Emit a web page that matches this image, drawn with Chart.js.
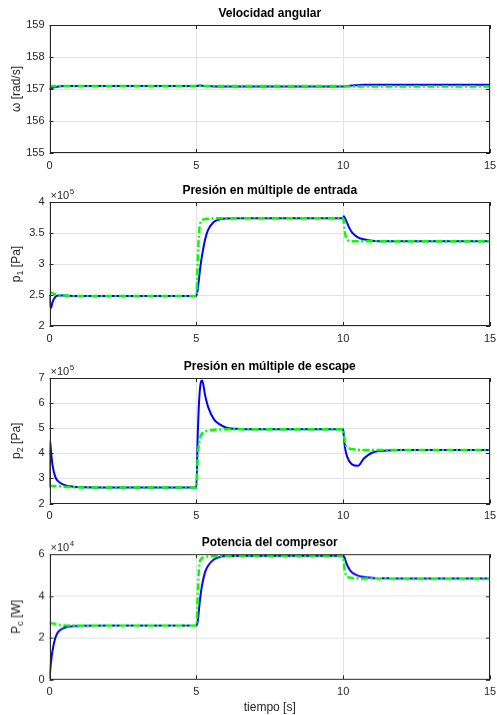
<!DOCTYPE html>
<html>
<head>
<meta charset="utf-8">
<script src="https://cdn.jsdelivr.net/npm/chart.js@4"></script>
<style>
    html, body { margin: 0; padding: 0; background: #fff; }
    #lienzo { position: relative; width: 497px; height: 715px; overflow: hidden; }
    .panel { position: absolute; left: 0; width: 497px; }
</style>
</head>
<body>
<div id="lienzo">
    <div class="panel" id="p-omega"><canvas id="chart-omega"></canvas></div>
    <div class="panel" id="p-p1"><canvas id="chart-p1"></canvas></div>
    <div class="panel" id="p-p2"><canvas id="chart-p2"></canvas></div>
    <div class="panel" id="p-pc"><canvas id="chart-pc"></canvas></div>
</div>
<script>
// tiempo [s] (muestras no uniformes, más densas en los escalones)
const tiempo = [0, 0.02, 0.05, 0.1, 0.2, 0.3, 0.5, 0.8, 1.2, 2,
    5, 5.05, 5.1, 5.15, 5.2, 5.3, 5.4, 5.6, 5.8, 6,
    6.5, 7,
    10, 10.02, 10.05, 10.1, 10.2, 10.3, 10.5, 10.7, 11, 11.5, 12, 15];

// velocidad angular [rad/s]
const omegaPlanta = [157.00, 157.01, 157.02, 157.04, 157.06, 157.08, 157.09, 157.09, 157.09, 157.09,
    157.09, 157.10, 157.11, 157.11, 157.10, 157.09, 157.09, 157.08, 157.08, 157.08,
    157.08, 157.08,
    157.08, 157.08, 157.08, 157.09, 157.10, 157.11, 157.12, 157.13, 157.13, 157.13, 157.13, 157.13];
const omegaEstimada = [157.09, 157.09, 157.09, 157.09, 157.09, 157.09, 157.09, 157.09, 157.09, 157.09,
    157.09, 157.10, 157.10, 157.10, 157.09, 157.09, 157.09, 157.09, 157.09, 157.09,
    157.09, 157.09,
    157.09, 157.09, 157.09, 157.08, 157.08, 157.08, 157.08, 157.08, 157.08, 157.08, 157.08, 157.08];

// presión múltiple de entrada [x1e5 Pa]
const p1Planta = [2.50, 2.35, 2.29, 2.38, 2.47, 2.49, 2.49, 2.485, 2.485, 2.485,
    2.485, 2.60, 2.80, 3.00, 3.15, 3.40, 3.55, 3.68, 3.72, 3.735,
    3.737, 3.737,
    3.737, 3.77, 3.75, 3.70, 3.59, 3.51, 3.43, 3.40, 3.375, 3.366, 3.366, 3.366];
const p1Estimada = [2.53, 2.535, 2.535, 2.53, 2.51, 2.50, 2.49, 2.485, 2.485, 2.485,
    2.485, 3.10, 3.55, 3.68, 3.71, 3.725, 3.73, 3.735, 3.737, 3.737,
    3.737, 3.737,
    3.737, 3.68, 3.55, 3.42, 3.375, 3.368, 3.366, 3.366, 3.366, 3.366, 3.366, 3.366];

// presión múltiple de escape [x1e5 Pa]
const p2Planta = [2.64, 4.50, 4.10, 3.55, 3.05, 2.88, 2.74, 2.67, 2.65, 2.64,
    2.64, 4.80, 6.20, 6.80, 6.90, 6.30, 5.85, 5.35, 5.15, 5.03,
    4.97, 4.96,
    4.96, 4.70, 4.35, 4.00, 3.70, 3.56, 3.50, 3.78, 4.03, 4.11, 4.13, 4.13];
const p2Estimada = [2.70, 2.70, 2.70, 2.70, 2.70, 2.69, 2.67, 2.65, 2.64, 2.64,
    2.64, 3.90, 4.45, 4.70, 4.80, 4.87, 4.90, 4.94, 4.95, 4.96,
    4.96, 4.96,
    4.96, 4.80, 4.55, 4.30, 4.20, 4.17, 4.14, 4.13, 4.13, 4.13, 4.13, 4.13];

// potencia del compresor [x1e4 W]
const pcPlanta = [0, 0.35, 0.80, 1.35, 2.00, 2.28, 2.47, 2.55, 2.57, 2.58,
    2.58, 2.80, 3.50, 4.10, 4.55, 5.15, 5.45, 5.75, 5.86, 5.90,
    5.92, 5.92,
    5.92, 5.90, 5.82, 5.60, 5.30, 5.12, 4.97, 4.90, 4.86, 4.84, 4.83, 4.83];
const pcEstimada = [2.69, 2.69, 2.69, 2.68, 2.65, 2.62, 2.59, 2.58, 2.58, 2.58,
    2.58, 4.20, 5.50, 5.75, 5.82, 5.86, 5.88, 5.90, 5.91, 5.92,
    5.92, 5.92,
    5.92, 5.60, 5.25, 4.98, 4.88, 4.85, 4.83, 4.83, 4.83, 4.83, 4.83, 4.83];

const ticksX = [0, 5, 10, 15];

const FUENTE = '"Liberation Sans", Arial, sans-serif';
const GRIS = '#262626';
const PAD_TOP = 24;

// marco, ticks interiores, título, etiquetas con subíndice y exponente
const marcoPlugin = {
    id: 'marco',
    afterDraw(chart, args, o) {
        const { ctx, chartArea: a, scales } = chart;
        ctx.save();
        ctx.strokeStyle = GRIS;
        ctx.lineWidth = 1;
        ctx.strokeRect(Math.round(a.left) + 0.5, Math.round(a.top) + 0.5,
            Math.round(a.right) - Math.round(a.left) - 1, Math.round(a.bottom) - Math.round(a.top) - 1);

        ctx.beginPath();
        scales.x.ticks.forEach(t => {
            const px = Math.round(scales.x.getPixelForValue(t.value)) + 0.5;
            ctx.moveTo(px, a.bottom); ctx.lineTo(px, a.bottom - 4);
            ctx.moveTo(px, a.top); ctx.lineTo(px, a.top + 4);
        });
        scales.y.ticks.forEach(t => {
            const py = Math.round(scales.y.getPixelForValue(t.value)) + 0.5;
            ctx.moveTo(a.left, py); ctx.lineTo(a.left + 4, py);
            ctx.moveTo(a.right, py); ctx.lineTo(a.right - 4, py);
        });
        ctx.stroke();

        ctx.fillStyle = '#000';
        ctx.font = 'bold 12px ' + FUENTE;
        ctx.textAlign = 'center';
        ctx.textBaseline = 'middle';
        ctx.fillText(o.titulo, (a.left + a.right) / 2, a.top - 11);

        // etiqueta eje y
        ctx.fillStyle = GRIS;
        ctx.translate(17, (a.top + a.bottom) / 2);
        ctx.rotate(-Math.PI / 2);
        ctx.textAlign = 'left';
        ctx.textBaseline = 'middle';
        const fNorm = '12px ' + FUENTE, fSub = '9px ' + FUENTE;
        ctx.font = fNorm; const w1 = ctx.measureText(o.yBase).width;
        ctx.font = fSub; const w2 = o.ySub ? ctx.measureText(o.ySub).width : 0;
        ctx.font = fNorm; const w3 = ctx.measureText(o.yResto).width;
        let x0 = -(w1 + w2 + w3) / 2;
        ctx.font = fNorm; ctx.fillText(o.yBase, x0, 0); x0 += w1;
        if (o.ySub) { ctx.font = fSub; ctx.fillText(o.ySub, x0, 4); x0 += w2; }
        ctx.font = fNorm; ctx.fillText(o.yResto, x0, 0);
        ctx.setTransform(1, 0, 0, 1, 0, 0);

        if (o.exponente) {
            ctx.fillStyle = GRIS;
            ctx.textAlign = 'left';
            ctx.textBaseline = 'alphabetic';
            ctx.font = '11px ' + FUENTE;
            const base = '\u00d710';
            ctx.fillText(base, a.left + 1, a.top - 3);
            const wb = ctx.measureText(base).width;
            ctx.font = '8px ' + FUENTE;
            ctx.fillText(o.exponente, a.left + 1 + wb + 0.5, a.top - 8);
        }

        if (o.xTitulo) {
            ctx.fillStyle = GRIS;
            ctx.font = '12px ' + FUENTE;
            ctx.textAlign = 'center';
            ctx.textBaseline = 'middle';
            ctx.fillText(o.xTitulo, (a.left + a.right) / 2, a.bottom + 28);
        }
        ctx.restore();
    }
};

function crearPanel(idDiv, idCanvas, cfg) {
    const div = document.getElementById(idDiv);
    div.style.top = (cfg.plotTop - PAD_TOP) + 'px';
    div.style.height = (PAD_TOP + cfg.plotH + cfg.xAlto) + 'px';

    const ctx = document.getElementById(idCanvas).getContext('2d');
    return new Chart(ctx, {
        type: 'line',
        data: {
            datasets: [{
                label: 'estimada',
                data: tiempo.map((t, i) => ({ x: t, y: cfg.estimada[i] })),
                borderColor: '#00ff00',
                borderWidth: 2.5,
                borderDash: [7, 2.5, 2, 2.5],
                cubicInterpolationMode: 'monotone',
                pointRadius: 0,
                fill: false
            }, {
                label: 'planta',
                data: tiempo.map((t, i) => ({ x: t, y: cfg.planta[i] })),
                borderColor: '#0000ff',
                borderWidth: 2,
                cubicInterpolationMode: 'monotone',
                pointRadius: 0,
                fill: false
            }]
        },
        options: {
            responsive: true,
            maintainAspectRatio: false,
            animation: false,
            layout: { padding: { top: PAD_TOP, left: 0, right: 7, bottom: 0 } },
            plugins: {
                legend: { display: false },
                tooltip: { enabled: false },
                marco: cfg.textos
            },
            scales: {
                x: {
                    type: 'linear',
                    min: 0, max: 15,
                    afterBuildTicks: s => { s.ticks = ticksX.map(v => ({ value: v })); },
                    afterFit: s => { s.height = cfg.xAlto; s.paddingLeft = 0; s.paddingRight = 0; },
                    grid: { color: '#e3e3e3', drawTicks: false },
                    border: { display: false },
                    ticks: { color: GRIS, font: { family: FUENTE, size: 11 }, padding: 6, maxRotation: 0,
                        callback: v => String(v) }
                },
                y: {
                    min: cfg.yMin, max: cfg.yMax,
                    afterBuildTicks: s => { s.ticks = cfg.yTicks.map(v => ({ value: v })); },
                    afterFit: s => { s.width = 49.5; s.paddingTop = 0; s.paddingBottom = 0; },
                    grid: { color: '#e3e3e3', drawTicks: false },
                    border: { display: false },
                    ticks: { color: GRIS, font: { family: FUENTE, size: 11 }, padding: 5,
                        callback: v => String(v) }
                }
            }
        },
        plugins: [marcoPlugin]
    });
}

crearPanel('p-omega', 'chart-omega', {
    plotTop: 25, plotH: 128, xAlto: 22,
    planta: omegaPlanta, estimada: omegaEstimada,
    yMin: 155, yMax: 159, yTicks: [155, 156, 157, 158, 159],
    textos: { titulo: 'Velocidad angular', yBase: '\u03c9 [rad/s]', ySub: '', yResto: '' }
});
crearPanel('p-p1', 'chart-p1', {
    plotTop: 202, plotH: 124, xAlto: 22,
    planta: p1Planta, estimada: p1Estimada,
    yMin: 2, yMax: 4, yTicks: [2, 2.5, 3, 3.5, 4],
    textos: { titulo: 'Presión en múltiple de entrada', yBase: 'p', ySub: '1', yResto: ' [Pa]', exponente: '5' }
});
crearPanel('p-p2', 'chart-p2', {
    plotTop: 377.5, plotH: 125.5, xAlto: 22,
    planta: p2Planta, estimada: p2Estimada,
    yMin: 2, yMax: 7, yTicks: [2, 3, 4, 5, 6, 7],
    textos: { titulo: 'Presión en múltiple de escape', yBase: 'p', ySub: '2', yResto: ' [Pa]', exponente: '5' }
});
crearPanel('p-pc', 'chart-pc', {
    plotTop: 554, plotH: 124.5, xAlto: 37,
    planta: pcPlanta, estimada: pcEstimada,
    yMin: 0, yMax: 6, yTicks: [0, 2, 4, 6],
    textos: { titulo: 'Potencia del compresor', yBase: 'P', ySub: 'c', yResto: ' [W]', exponente: '4', xTitulo: 'tiempo [s]' }
});
</script>
</body>
</html>
